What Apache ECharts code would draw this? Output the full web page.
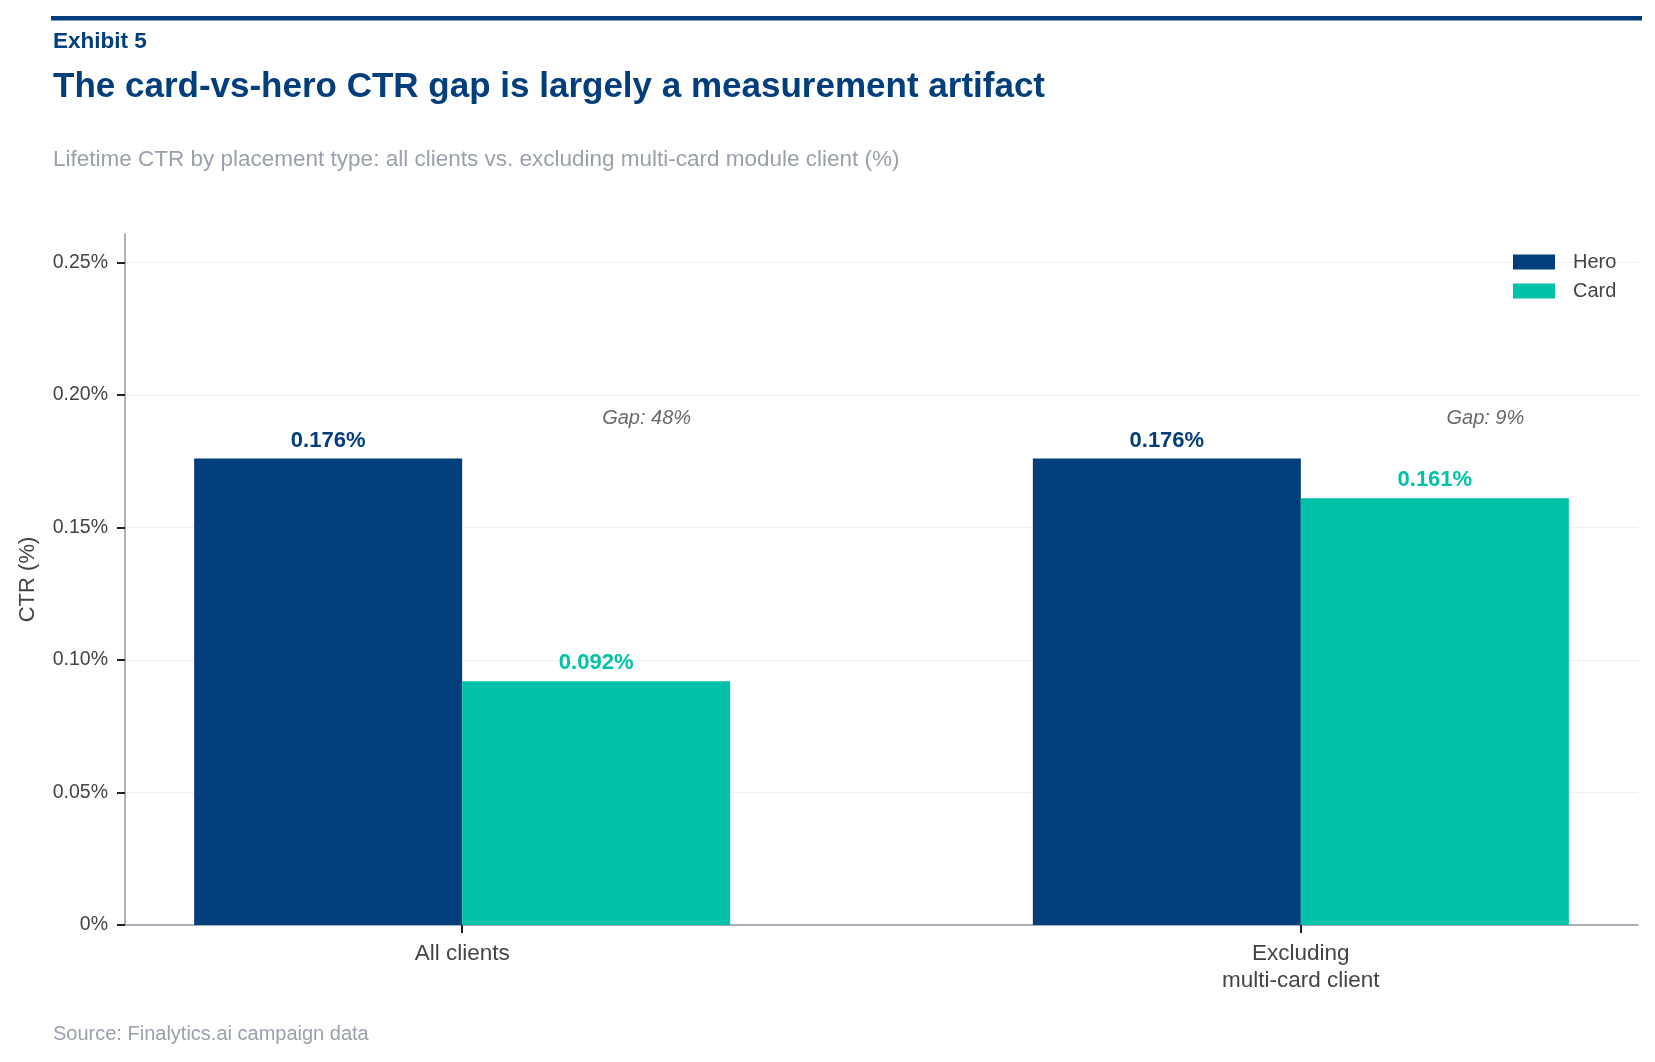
<!DOCTYPE html>
<html>
<head>
<meta charset="utf-8">
<script src="https://cdn.jsdelivr.net/npm/echarts@6/dist/echarts.min.js"></script>
<style>
  html, body { margin: 0; padding: 0; background: #ffffff; }
  #chart { width: 1655px; height: 1062px; }
</style>
</head>
<body>
<div id="chart"></div>
<script>
var categories = ['All clients', 'Excluding\nmulti-card client'];
var seriesNames = ['Hero', 'Card'];
var heroValues = [0.176, 0.176];
var cardValues = [0.092, 0.161];
var gapLabels = ['Gap: 48%', 'Gap: 9%'];
var yTicks = [0, 0.05, 0.10, 0.15, 0.20, 0.25];
var xTicks = [0, 1];

var FONT = "'Liberation Sans', Arial, sans-serif";
var NAVY = '#023e7b';
var TEAL = '#00c2a8';
var TXT = '#444444';
var GREY = '#9aa1ad';

var chart = echarts.init(document.getElementById('chart'), null, { renderer: 'canvas' });

function pairs(vals) {
  return vals.map(function (v, i) { return [xTicks[i], v]; });
}

var option = {
  animation: false,
  backgroundColor: '#ffffff',
  textStyle: { fontFamily: FONT },
  graphic: [
    { type: 'rect', left: 51, top: 16, shape: { width: 1591, height: 4.5 }, style: { fill: NAVY } },
    { type: 'text', left: 53, top: 30, style: { text: 'Exhibit 5', font: 'bold 22.5px ' + FONT, fill: NAVY } },
    { type: 'text', left: 53, top: 70, style: { text: 'The card-vs-hero CTR gap is largely a measurement artifact', font: 'bold 35px ' + FONT, fill: NAVY } },
    { type: 'text', left: 53, top: 148, style: { text: 'Lifetime CTR by placement type: all clients vs. excluding multi-card module client (%)', font: '22.5px ' + FONT, fill: GREY } },
    { type: 'text', left: 53, top: 1024, style: { text: 'Source: Finalytics.ai campaign data', font: '20px ' + FONT, fill: GREY } }
  ],
  legend: {
    data: seriesNames,
    orient: 'vertical',
    left: 1508,
    top: 247,
    itemWidth: 42,
    itemHeight: 15,
    itemGap: 9,
    icon: 'rect',
    textStyle: { color: TXT, fontSize: 20, fontFamily: FONT, padding: [0, 0, 0, 13] }
  },
  grid: { left: 125, top: 234, right: 17, bottom: 137, containLabel: false },
  xAxis: {
    type: 'value',
    min: -0.402,
    max: 1.402,
    splitLine: { show: false },
    axisLine: { show: true, onZero: false, lineStyle: { color: '#8e98a6', width: 1.5 } },
    axisTick: { show: true, customValues: xTicks, length: 8, lineStyle: { color: '#222', width: 2 } },
    axisLabel: {
      customValues: xTicks,
      margin: 16,
      color: TXT,
      fontSize: 22.5,
      lineHeight: 26.5,
      fontFamily: FONT,
      formatter: function (v) { return categories[Math.round(v)]; }
    }
  },
  yAxis: {
    type: 'value',
    min: 0,
    max: 0.2607,
    name: 'CTR (%)',
    nameLocation: 'middle',
    nameRotate: 90,
    nameGap: 86,
    nameTextStyle: { color: TXT, fontSize: 22, fontFamily: FONT },
    axisLine: { show: true, onZero: false, lineStyle: { color: '#8e98a6', width: 1.5 } },
    axisTick: { show: true, customValues: yTicks, length: 8, lineStyle: { color: '#222', width: 2 } },
    splitLine: { show: true, lineStyle: { color: '#f0f0f0', width: 1 } },
    axisLabel: {
      customValues: yTicks,
      margin: 17,
      color: TXT,
      fontSize: 19.5,
      fontFamily: FONT,
      formatter: function (v) { return v === 0 ? '0%' : v.toFixed(2) + '%'; }
    }
  },
  series: [
    {
      name: seriesNames[0],
      type: 'bar',
      data: pairs(heroValues),
      barWidth: 268,
      barGap: '0%',
      itemStyle: { color: NAVY },
      label: {
        show: true, position: 'top', distance: 7,
        color: NAVY, fontSize: 22, fontWeight: 'bold', fontFamily: FONT,
        formatter: function (p) { return p.value[1].toFixed(3) + '%'; }
      }
    },
    {
      name: seriesNames[1],
      type: 'bar',
      data: pairs(cardValues),
      barWidth: 268,
      barGap: '0%',
      itemStyle: { color: TEAL },
      label: {
        show: true, position: 'top', distance: 7,
        color: TEAL, fontSize: 22, fontWeight: 'bold', fontFamily: FONT,
        formatter: function (p) { return p.value[1].toFixed(3) + '%'; }
      }
    },
    {
      name: 'gap',
      type: 'scatter',
      symbolSize: 0,
      silent: true,
      data: gapLabels.map(function (t, i) {
        return { value: [xTicks[i] + 0.22, Math.max(heroValues[i], cardValues[i]) + 0.015], label: { formatter: t } };
      }),
      label: {
        show: true, position: 'inside',
        color: TXT, fontSize: 20, fontStyle: 'italic', fontFamily: FONT
      }
    }
  ]
};

chart.setOption(option);
</script>
</body>
</html>
